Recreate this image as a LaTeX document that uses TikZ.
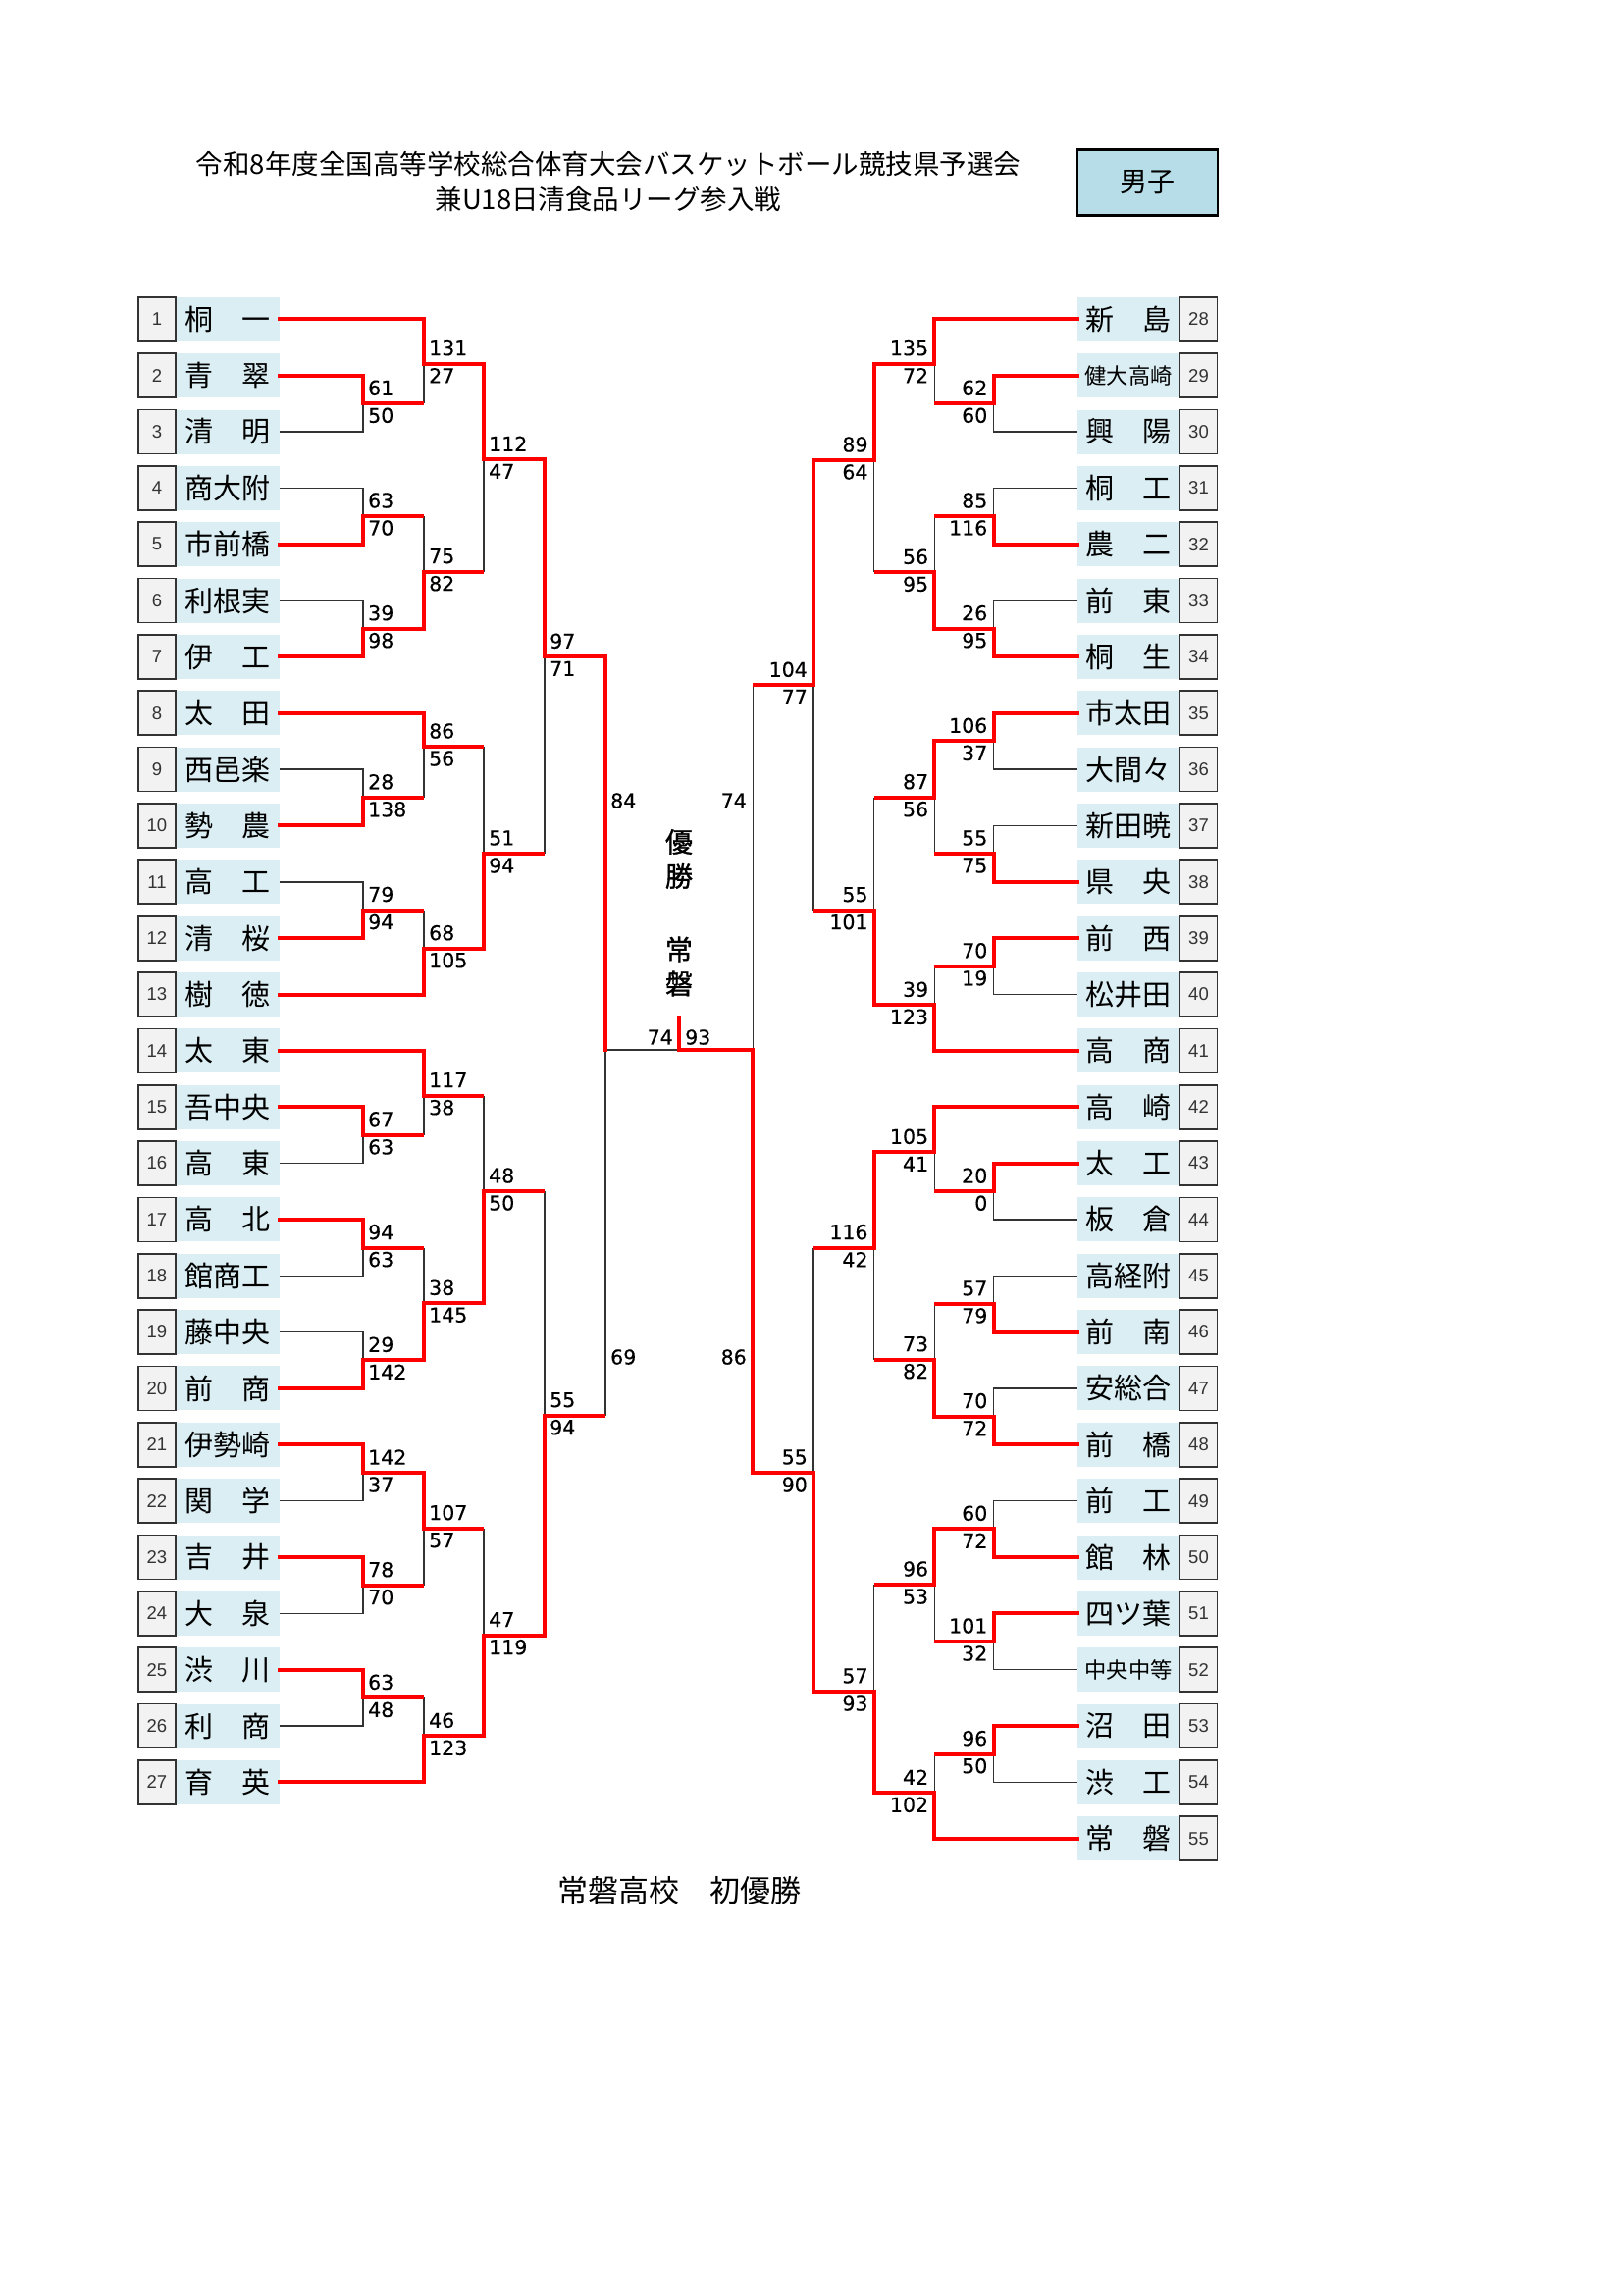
\documentclass[tikz,border=0pt]{standalone}
\usepackage{fontspec}
\setmainfont{Noto Sans CJK JP}
\newfontfamily\jp{Noto Sans CJK JP}
\newfontfamily\jpb{Noto Sans CJK JP}[FakeBold=1.2]
\newfontfamily\scf{DejaVu Sans}[FakeBold=0.4]
\newfontfamily\nbf{Liberation Sans}
\definecolor{lred}{HTML}{FF0000}
\definecolor{lgray}{HTML}{333333}
\definecolor{nbfill}{HTML}{F2F2F2}
\definecolor{nmfill}{HTML}{DAEEF3}
\definecolor{hdfill}{HTML}{B7DEE8}
\pgfdeclarelayer{paper}
\pgfdeclarelayer{back}
\pgfsetlayers{paper,back,main}
\tikzset{
  win/.style={draw=lred, line width=4pt, line cap=rect, line join=miter},
  winh/.style={draw=lred, line width=4pt},
  lose/.style={draw=lgray, line width=1.5pt},
  numbox/.style={draw=lgray, line width=1.7pt, fill=nbfill, minimum width=38pt, minimum height=45pt, inner sep=0pt, font=\nbf\fontsize{18.5}{18}\selectfont, text=black!80},
  namebox/.style={fill=nmfill, minimum height=45pt, inner sep=0pt, font=\jp\fontsize{29}{29}\selectfont},
  scl/.style={inner sep=0pt, font=\scf\fontsize{20.5}{21}\selectfont}
}
\newcommand\two[2]{\makebox[87pt]{#1\hfill#2}}
\newcommand\four[1]{{\fontsize{22.3}{22}\selectfont #1}}
\newcommand\Wt[2]{\draw[win] (#1) -| (#2);}
\newcommand\Lt[2]{\begin{pgfonlayer}{back}\draw[lose] (#1) -| (#2);\end{pgfonlayer}}
\newcommand\Lj[2]{\draw[winh] (#1) -- (#1 -| #2);\begin{pgfonlayer}{back}\draw[lose] (#1 -| #2) -- (#2);\end{pgfonlayer}}
\newcommand\scL[3]{\node[scl,anchor=west] (#1u) at ([shift={(5,-16)}]#1) {#2};\node[scl,anchor=west] (#1l) at ([shift={(5,12)}]#1) {#3};}
\newcommand\scR[3]{\node[scl,anchor=east] (#1u) at ([shift={(-6,-16)}]#1) {#2};\node[scl,anchor=east] (#1l) at ([shift={(-6,12)}]#1) {#3};}
\begin{document}
\begin{tikzpicture}[x=1pt,y=-1pt]
\begin{pgfonlayer}{paper}
\fill[white] (0,0) rectangle (1654,2339);
\end{pgfonlayer}
\useasboundingbox (0,0) rectangle (1654,2339);
% header
\node[align=center, font=\jp\fontsize{27.5}{36}\selectfont] (title) at (620,185)
  {令和8年度全国高等学校総合体育大会バスケットボール競技県予選会\\兼U18日清食品リーグ参入戦};
\node[draw=black, line width=2.5pt, fill=hdfill, minimum width=143pt, minimum height=67pt, inner sep=0pt, font=\jp\fontsize{28}{28}\selectfont] (dan) at (1169.5,186) {男子};
% left teams
\foreach \i/\nm in {1/{\two{桐}{一}},2/{\two{青}{翠}},3/{\two{清}{明}},4/{商大附},5/{市前橋},6/{利根実},7/{\two{伊}{工}},8/{\two{太}{田}},9/{西邑楽},10/{\two{勢}{農}},11/{\two{高}{工}},12/{\two{清}{桜}},13/{\two{樹}{徳}},14/{\two{太}{東}},15/{吾中央},16/{\two{高}{東}},17/{\two{高}{北}},18/{館商工},19/{藤中央},20/{\two{前}{商}},21/{伊勢崎},22/{\two{関}{学}},23/{\two{吉}{井}},24/{\two{大}{泉}},25/{\two{渋}{川}},26/{\two{利}{商}},27/{\two{育}{英}}}{
  \node[namebox, minimum width=106pt] (tL\i) at (232,{325.3+(\i-1)*57.35}) {\nm};
  \node[numbox] (nL\i) at (160,{325.3+(\i-1)*57.35}) {\i};
}
% right teams
\foreach \i/\nm in {28/{\two{新}{島}},29/{\four{健大高崎}},30/{\two{興}{陽}},31/{\two{桐}{工}},32/{\two{農}{二}},33/{\two{前}{東}},34/{\two{桐}{生}},35/{市太田},36/{大間々},37/{新田暁},38/{\two{県}{央}},39/{\two{前}{西}},40/{松井田},41/{\two{高}{商}},42/{\two{高}{崎}},43/{\two{太}{工}},44/{\two{板}{倉}},45/{高経附},46/{\two{前}{南}},47/{安総合},48/{\two{前}{橋}},49/{\two{前}{工}},50/{\two{館}{林}},51/{四ツ葉},52/{\four{中央中等}},53/{\two{沼}{田}},54/{\two{渋}{工}},55/{\two{常}{磐}}}{
  \node[namebox, minimum width=104pt] (tR\i) at (1150,{325.3+(\i-28)*57.35}) {\nm};
  \node[numbox] (nR\i) at (1221.5,{325.3+(\i-28)*57.35}) {\i};
}
% junctions left
\coordinate (La23) at (370,411.3);
\coordinate (La45) at (370,526.0);
\coordinate (La67) at (370,640.7);
\coordinate (La910) at (370,812.8);
\coordinate (La1112) at (370,927.5);
\coordinate (La1516) at (370,1156.9);
\coordinate (La1718) at (370,1271.6);
\coordinate (La1920) at (370,1386.3);
\coordinate (La2122) at (370,1501.0);
\coordinate (La2324) at (370,1615.7);
\coordinate (La2526) at (370,1730.4);
\coordinate (LA1) at (432,370.7);
\coordinate (LA2) at (432,582.7);
\coordinate (LA3) at (432,761);
\coordinate (LA4) at (432,966.7);
\coordinate (LA5) at (432,1116.7);
\coordinate (LA6) at (432,1328.3);
\coordinate (LA7) at (432,1557.7);
\coordinate (LA8) at (432,1769.3);
\coordinate (LB1) at (493,468.3);
\coordinate (LB2) at (493,870);
\coordinate (LB3) at (493,1214);
\coordinate (LB4) at (493,1666.7);
\coordinate (LC1) at (555,669.3);
\coordinate (LC2) at (555,1442.7);
\coordinate (LD) at (617,1070);
\coordinate (F) at (692,1070);
\coordinate (Ft) at (692,1037);
% junctions right
\coordinate (RD) at (767.3,1070);
\coordinate (RC1) at (829,698.3);
\coordinate (RC2) at (829,1501);
\coordinate (RB1) at (890.7,469);
\coordinate (RB2) at (890.7,927.7);
\coordinate (RB3) at (890.7,1271.7);
\coordinate (RB4) at (890.7,1724);
\coordinate (RA1) at (952.3,370.7);
\coordinate (RA2) at (952.3,583.3);
\coordinate (RA3) at (952.3,812.7);
\coordinate (RA4) at (952.3,1024.3);
\coordinate (RA5) at (952.3,1174.3);
\coordinate (RA6) at (952.3,1385.7);
\coordinate (RA7) at (952.3,1615);
\coordinate (RA8) at (952.3,1827.3);
\coordinate (Ra2930) at (1012.5,411.3);
\coordinate (Ra3132) at (1012.5,526.0);
\coordinate (Ra3334) at (1012.5,640.7);
\coordinate (Ra3536) at (1012.5,755.4);
\coordinate (Ra3738) at (1012.5,870.1);
\coordinate (Ra3940) at (1012.5,984.8);
\coordinate (Ra4344) at (1012.5,1214.2);
\coordinate (Ra4546) at (1012.5,1328.9);
\coordinate (Ra4748) at (1012.5,1443.6);
\coordinate (Ra4950) at (1012.5,1558.3);
\coordinate (Ra5152) at (1012.5,1673.0);
\coordinate (Ra5354) at (1012.5,1787.7);
% ---- left round 1
\Wt{tL2.east}{La23}\Lt{tL3.east}{La23}\scL{La23}{61}{50}
\Lt{tL4.east}{La45}\Wt{tL5.east}{La45}\scL{La45}{63}{70}
\Lt{tL6.east}{La67}\Wt{tL7.east}{La67}\scL{La67}{39}{98}
\Lt{tL9.east}{La910}\Wt{tL10.east}{La910}\scL{La910}{28}{138}
\Lt{tL11.east}{La1112}\Wt{tL12.east}{La1112}\scL{La1112}{79}{94}
\Wt{tL15.east}{La1516}\Lt{tL16.east}{La1516}\scL{La1516}{67}{63}
\Wt{tL17.east}{La1718}\Lt{tL18.east}{La1718}\scL{La1718}{94}{63}
\Lt{tL19.east}{La1920}\Wt{tL20.east}{La1920}\scL{La1920}{29}{142}
\Wt{tL21.east}{La2122}\Lt{tL22.east}{La2122}\scL{La2122}{142}{37}
\Wt{tL23.east}{La2324}\Lt{tL24.east}{La2324}\scL{La2324}{78}{70}
\Wt{tL25.east}{La2526}\Lt{tL26.east}{La2526}\scL{La2526}{63}{48}
% ---- left round 2
\Wt{tL1.east}{LA1}\Lj{La23}{LA1}\scL{LA1}{131}{27}
\Lj{La45}{LA2}\Wt{La67}{LA2}\scL{LA2}{75}{82}
\Wt{tL8.east}{LA3}\Lj{La910}{LA3}\scL{LA3}{86}{56}
\Lj{La1112}{LA4}\Wt{tL13.east}{LA4}\scL{LA4}{68}{105}
\Wt{tL14.east}{LA5}\Lj{La1516}{LA5}\scL{LA5}{117}{38}
\Lj{La1718}{LA6}\Wt{La1920}{LA6}\scL{LA6}{38}{145}
\Wt{La2122}{LA7}\Lj{La2324}{LA7}\scL{LA7}{107}{57}
\Lj{La2526}{LA8}\Wt{tL27.east}{LA8}\scL{LA8}{46}{123}
% ---- left round 3
\Wt{LA1}{LB1}\Lj{LA2}{LB1}\scL{LB1}{112}{47}
\Lj{LA3}{LB2}\Wt{LA4}{LB2}\scL{LB2}{51}{94}
\Lj{LA5}{LB3}\Wt{LA6}{LB3}\scL{LB3}{48}{50}
\Lj{LA7}{LB4}\Wt{LA8}{LB4}\scL{LB4}{47}{119}
% ---- left round 4
\Wt{LB1}{LC1}\Lj{LB2}{LC1}\scL{LC1}{97}{71}
\Lj{LB3}{LC2}\Wt{LB4}{LC2}\scL{LC2}{55}{94}
% ---- left semifinal
\Wt{LC1}{LD}\Lj{LC2}{LD}
\node[scl,anchor=west] (sLDu) at (622,816) {84};
\node[scl,anchor=west] (sLDl) at (622,1383) {69};
% ---- right round 1
\Wt{tR29.west}{Ra2930}\Lt{tR30.west}{Ra2930}\scR{Ra2930}{62}{60}
\Lt{tR31.west}{Ra3132}\Wt{tR32.west}{Ra3132}\scR{Ra3132}{85}{116}
\Lt{tR33.west}{Ra3334}\Wt{tR34.west}{Ra3334}\scR{Ra3334}{26}{95}
\Wt{tR35.west}{Ra3536}\Lt{tR36.west}{Ra3536}\scR{Ra3536}{106}{37}
\Lt{tR37.west}{Ra3738}\Wt{tR38.west}{Ra3738}\scR{Ra3738}{55}{75}
\Wt{tR39.west}{Ra3940}\Lt{tR40.west}{Ra3940}\scR{Ra3940}{70}{19}
\Wt{tR43.west}{Ra4344}\Lt{tR44.west}{Ra4344}\scR{Ra4344}{20}{0}
\Lt{tR45.west}{Ra4546}\Wt{tR46.west}{Ra4546}\scR{Ra4546}{57}{79}
\Lt{tR47.west}{Ra4748}\Wt{tR48.west}{Ra4748}\scR{Ra4748}{70}{72}
\Lt{tR49.west}{Ra4950}\Wt{tR50.west}{Ra4950}\scR{Ra4950}{60}{72}
\Wt{tR51.west}{Ra5152}\Lt{tR52.west}{Ra5152}\scR{Ra5152}{101}{32}
\Wt{tR53.west}{Ra5354}\Lt{tR54.west}{Ra5354}\scR{Ra5354}{96}{50}
% ---- right round 2
\Wt{tR28.west}{RA1}\Lj{Ra2930}{RA1}\scR{RA1}{135}{72}
\Lj{Ra3132}{RA2}\Wt{Ra3334}{RA2}\scR{RA2}{56}{95}
\Wt{Ra3536}{RA3}\Lj{Ra3738}{RA3}\scR{RA3}{87}{56}
\Lj{Ra3940}{RA4}\Wt{tR41.west}{RA4}\scR{RA4}{39}{123}
\Wt{tR42.west}{RA5}\Lj{Ra4344}{RA5}\scR{RA5}{105}{41}
\Lj{Ra4546}{RA6}\Wt{Ra4748}{RA6}\scR{RA6}{73}{82}
\Wt{Ra4950}{RA7}\Lj{Ra5152}{RA7}\scR{RA7}{96}{53}
\Lj{Ra5354}{RA8}\Wt{tR55.west}{RA8}\scR{RA8}{42}{102}
% ---- right round 3
\Wt{RA1}{RB1}\Lj{RA2}{RB1}\scR{RB1}{89}{64}
\Lj{RA3}{RB2}\Wt{RA4}{RB2}\scR{RB2}{55}{101}
\Wt{RA5}{RB3}\Lj{RA6}{RB3}\scR{RB3}{116}{42}
\Lj{RA7}{RB4}\Wt{RA8}{RB4}\scR{RB4}{57}{93}
% ---- right round 4
\Wt{RB1}{RC1}\Lj{RB2}{RC1}\scR{RC1}{104}{77}
\Lj{RB3}{RC2}\Wt{RB4}{RC2}\scR{RC2}{55}{90}
% ---- right semifinal
\Lj{RC1}{RD}\Wt{RC2}{RD}
\node[scl,anchor=east] (sRDu) at (761,816) {74};
\node[scl,anchor=east] (sRDl) at (761,1383) {86};
% ---- final
\begin{pgfonlayer}{back}\draw[lose] (LD) -- (F);\end{pgfonlayer}
\draw[win] (RD) -- (F) -- (Ft);
\node[scl,anchor=east] (sFl) at (686,1057) {74};
\node[scl,anchor=west] (sFr) at (698,1057) {93};
\node[align=center, font=\jpb\fontsize{28}{35}\selectfont] (yusho) at (692,875.5) {優\\勝};
\node[align=center, font=\jpb\fontsize{28}{35}\selectfont] (champ) at (692,985) {常\\磐};
\node[font=\jp\fontsize{31}{31}\selectfont] (result) at (692.5,1927) {常磐高校\hspace{31pt}初優勝};
\end{tikzpicture}
\end{document}
